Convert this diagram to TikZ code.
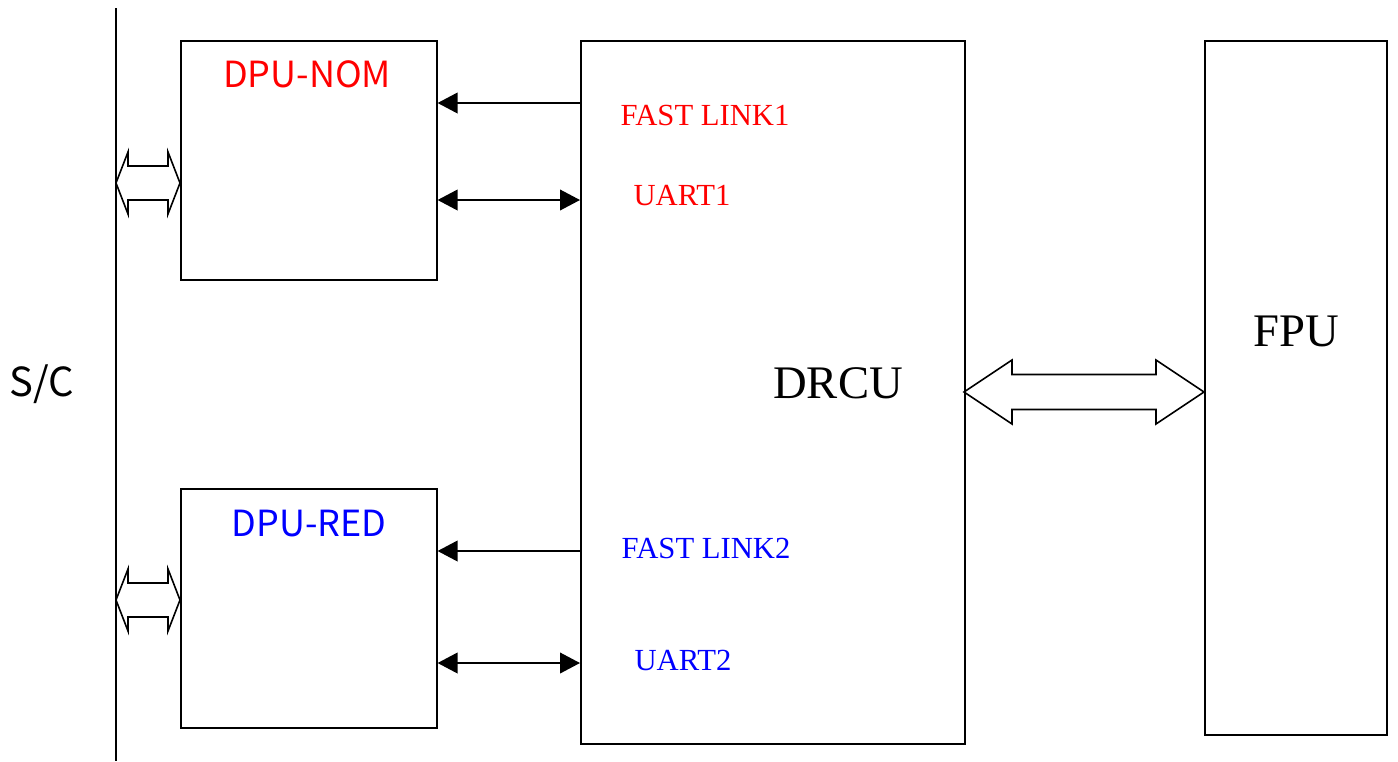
\documentclass[tikz,border=0pt]{standalone}
\usepackage{fontspec}
\setmainfont{Liberation Serif}
\setsansfont{Liberation Sans}
\newfontfamily\cjksans{Noto Sans CJK SC}
\usetikzlibrary{arrows.meta,calc}
\newcommand\dblhollow[6]{% x1 x2 y headlen headhalf shafthalf
  \draw[hollow] (#1,#3) -- ({#1+#4},{#3-#5}) -- ({#1+#4},{#3-#6}) -- ({#2-#4},{#3-#6}) -- ({#2-#4},{#3-#5}) -- (#2,#3)
    -- ({#2-#4},{#3+#5}) -- ({#2-#4},{#3+#6}) -- ({#1+#4},{#3+#6}) -- ({#1+#4},{#3+#5}) -- cycle;}
\begin{document}
\begin{tikzpicture}[x=0.75pt,y=-0.75pt,
  box/.style={draw, line width=1.2pt, inner sep=0pt, anchor=north west},
  sig/.style={line width=1.3pt},
  hollow/.style={draw, fill=white, line width=1.2pt, line join=miter},
  lbl/.style={inner sep=0pt, font=\fontsize{23}{23}\selectfont},
  big/.style={inner sep=0pt, font=\fontsize{35}{35}\selectfont},
  dpu/.style={inner sep=0pt, font=\cjksans\fontsize{27}{27}\selectfont}]
\useasboundingbox (0,0) rectangle (1398,761);
% bus
\coordinate (bt) at (116,8);
\coordinate (bb) at (116,761);
\draw[line width=1.2pt] (bt) -- (bb);
% boxes
\node[box, minimum width=192pt, minimum height=179.25pt] (nom) at (180,40) {};
\node[box, minimum width=192pt, minimum height=179.25pt] (red) at (180,488) {};
\node[box, minimum width=288pt, minimum height=527.25pt] (drcu) at (580,40) {};
\node[box, minimum width=136.5pt, minimum height=520.5pt] (fpu) at (1204,40) {};
% labels
\node[dpu, red, anchor=base] (nomlbl) at (307,87) {DPU-NOM};
\node[dpu, blue, anchor=base] (redlbl) at (309,536) {DPU-RED};
\node[big] (drculbl) at (838,383) {DRCU};
\node[big] (fpulbl) at (1296,331) {FPU};
\node[inner sep=0pt, anchor=base, font=\cjksans\fontsize{30}{30}\selectfont] (sc) at (42,396) {S/C};
\node[lbl, red] (fl1) at (705,115) {FAST LINK1};
\node[lbl, red] (u1) at (682,196) {UART1};
\node[lbl, blue] (fl2) at (706,548) {FAST LINK2};
\node[lbl, blue] (u2) at (683,660) {UART2};
% signal arrows
\draw[sig, -{Triangle[length=15pt,width=15.5pt]}] (drcu.west |- 0,103) -- (nom.east |- 0,103);
\draw[sig, {Triangle[length=15pt,width=15.5pt]}-{Triangle[length=15pt,width=15.5pt]}] (nom.east |- 0,200) -- (drcu.west |- 0,200);
\draw[sig, -{Triangle[length=15pt,width=15.5pt]}] (drcu.west |- 0,551) -- (red.east |- 0,551);
\draw[sig, {Triangle[length=15pt,width=15.5pt]}-{Triangle[length=15pt,width=15.5pt]}] (red.east |- 0,663) -- (drcu.west |- 0,663);
% hollow double arrows
\dblhollow{116}{180}{183}{12}{31}{17}
\dblhollow{116}{180}{600}{12}{31}{17}
\dblhollow{964}{1204}{392}{48}{32}{17.5}
\end{tikzpicture}
\end{document}
